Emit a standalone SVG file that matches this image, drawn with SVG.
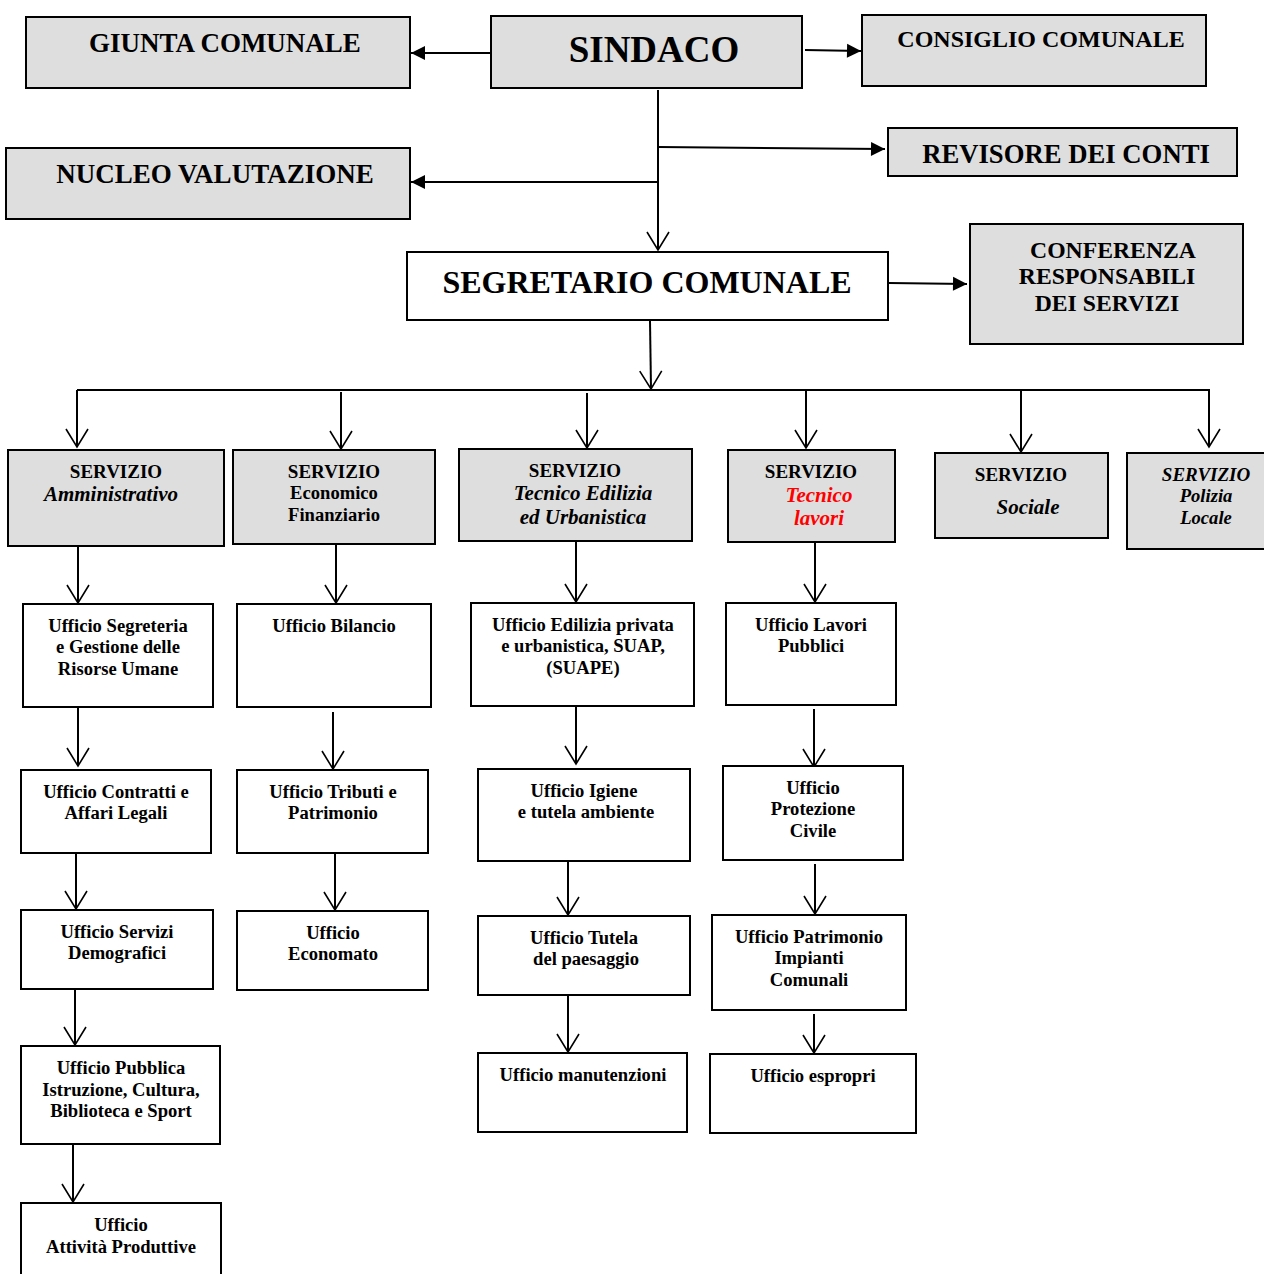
<svg xmlns="http://www.w3.org/2000/svg" width="1264" height="1274" viewBox="0 0 1264 1274">
<defs>
<marker id="open" markerUnits="userSpaceOnUse" markerWidth="26" markerHeight="26" viewBox="-20 -13 22 26" refX="0" refY="0" orient="auto">
<path d="M-18,-11 L0,0 L-18,11" fill="none" stroke="#000" stroke-width="1.6"/>
</marker>
<marker id="fill" markerUnits="userSpaceOnUse" markerWidth="18" markerHeight="16" viewBox="-15 -8 16 16" refX="0" refY="0" orient="auto">
<path d="M-14,-7 L0,0 L-14,7 Z" fill="#000"/>
</marker>
<style>
.g{fill:#dedede;stroke:#000;stroke-width:2}
.w{fill:#fff;stroke:#000;stroke-width:2}
text{font-family:'Liberation Serif','Times New Roman',serif;font-weight:bold;fill:#000;text-anchor:middle}
.t{font-size:18.6px}
.s{font-size:19px}
.it{font-size:21px;font-style:italic}
.i{font-style:italic}
.red{fill:#ff0000}
.c line{stroke:#000;stroke-width:2;fill:none}
.o{marker-end:url(#open)}
.f{marker-end:url(#fill)}
</style>
</defs>
<rect width="1264" height="1274" fill="#fff"/>

<g class="c" id="connectors">
<line class="f" x1="491" y1="53" x2="411" y2="53"/>
<line class="f" x1="805" y1="50" x2="861" y2="51"/>
<line class="o" x1="658" y1="90" x2="658" y2="250"/>
<line class="f" x1="658" y1="147" x2="885" y2="149"/>
<line class="f" x1="658" y1="182" x2="411" y2="182"/>
<line class="f" x1="889" y1="283" x2="967" y2="284"/>
<line class="o" x1="650" y1="321" x2="651" y2="389"/>
<line x1="77" y1="390" x2="1210" y2="390"/>
<line class="o" x1="77" y1="390" x2="77" y2="447"/>
<line class="o" x1="341" y1="392" x2="341" y2="449"/>
<line class="o" x1="587" y1="393" x2="587" y2="448"/>
<line class="o" x1="806" y1="391" x2="806" y2="448"/>
<line class="o" x1="1021" y1="391" x2="1021" y2="452"/>
<line class="o" x1="1209" y1="390" x2="1209" y2="447"/>
<line class="o" x1="78" y1="547" x2="78" y2="603"/>
<line class="o" x1="78" y1="708" x2="78" y2="766"/>
<line class="o" x1="76" y1="854" x2="76" y2="909"/>
<line class="o" x1="75" y1="990" x2="75" y2="1045"/>
<line class="o" x1="73" y1="1145" x2="73" y2="1202"/>
<line class="o" x1="336" y1="545" x2="336" y2="603"/>
<line class="o" x1="333" y1="712" x2="333" y2="769"/>
<line class="o" x1="335" y1="854" x2="335" y2="910"/>
<line class="o" x1="576" y1="542" x2="576" y2="602"/>
<line class="o" x1="576" y1="707" x2="576" y2="764"/>
<line class="o" x1="568" y1="862" x2="568" y2="915"/>
<line class="o" x1="568" y1="996" x2="568" y2="1052"/>
<line class="o" x1="815" y1="543" x2="815" y2="602"/>
<line class="o" x1="814" y1="709" x2="814" y2="767"/>
<line class="o" x1="815" y1="864" x2="815" y2="914"/>
<line class="o" x1="814" y1="1014" x2="814" y2="1053"/>
</g>

<g id="sindaco"><rect class="g" x="491" y="16" width="311" height="72"/><text x="654" y="62" style="font-size:37px">SINDACO</text></g>
<g id="giunta"><rect class="g" x="26" y="17" width="384" height="71"/><text x="225" y="52" style="font-size:27px">GIUNTA COMUNALE</text></g>
<g id="consiglio"><rect class="g" x="862" y="15" width="344" height="71"/><text x="1041" y="47" style="font-size:24px">CONSIGLIO COMUNALE</text></g>
<g id="revisore"><rect class="g" x="888" y="128" width="349" height="48"/><text x="1066" y="163" style="font-size:26.7px">REVISORE DEI CONTI</text></g>
<g id="nucleo"><rect class="g" x="6" y="148" width="404" height="71"/><text x="215" y="183" style="font-size:27px">NUCLEO VALUTAZIONE</text></g>
<g id="segretario"><rect class="w" x="407" y="252" width="481" height="68"/><text x="647" y="293" style="font-size:32px">SEGRETARIO COMUNALE</text></g>
<g id="conferenza"><rect class="g" x="970" y="224" width="273" height="120"/>
<text style="font-size:23.7px"><tspan x="1113" y="258">CONFERENZA</tspan><tspan x="1107" y="284">RESPONSABILI</tspan><tspan x="1107" y="311">DEI SERVIZI</tspan></text></g>

<g id="serv-amm"><rect class="g" x="8" y="450" width="216" height="96"/>
<text class="s" x="116" y="478">SERVIZIO</text><text class="it" x="111" y="501">Amministrativo</text></g>
<g id="serv-eco"><rect class="g" x="233" y="450" width="202" height="94"/>
<text class="s" x="334" y="478">SERVIZIO</text><text class="t" x="334" y="499">Economico</text><text class="t" x="334" y="521">Finanziario</text></g>
<g id="serv-tec-ed"><rect class="g" x="459" y="449" width="233" height="92"/>
<text class="s" x="575" y="477">SERVIZIO</text><text class="it" x="583" y="500">Tecnico Edilizia</text><text class="it" x="583" y="524">ed Urbanistica</text></g>
<g id="serv-tec-lav"><rect class="g" x="728" y="450" width="167" height="92"/>
<text class="s" x="811" y="478">SERVIZIO</text><text class="it red" x="819" y="502">Tecnico</text><text class="it red" x="819" y="525">lavori</text></g>
<g id="serv-soc"><rect class="g" x="935" y="453" width="173" height="85"/>
<text class="s" x="1021" y="481">SERVIZIO</text><text class="it" x="1028" y="514">Sociale</text></g>
<g id="serv-pol"><rect class="g" x="1127" y="453" width="140" height="96"/>
<text class="s i" x="1206" y="481">SERVIZIO</text><text class="t i" x="1206" y="502">Polizia</text><text class="t i" x="1206" y="524">Locale</text></g>

<g id="u-segreteria"><rect class="w" x="23" y="604" width="190" height="103"/>
<text class="t"><tspan x="118" y="632">Ufficio Segreteria</tspan><tspan x="118" y="653">e Gestione delle</tspan><tspan x="118" y="675">Risorse Umane</tspan></text></g>
<g id="u-contratti"><rect class="w" x="21" y="770" width="190" height="83"/>
<text class="t"><tspan x="116" y="798">Ufficio Contratti e</tspan><tspan x="116" y="819">Affari Legali</tspan></text></g>
<g id="u-demografici"><rect class="w" x="21" y="910" width="192" height="79"/>
<text class="t"><tspan x="117" y="938">Ufficio Servizi</tspan><tspan x="117" y="959">Demografici</tspan></text></g>
<g id="u-istruzione"><rect class="w" x="21" y="1046" width="199" height="98"/>
<text class="t"><tspan x="121" y="1074">Ufficio Pubblica</tspan><tspan x="121" y="1096">Istruzione, Cultura,</tspan><tspan x="121" y="1117">Biblioteca e Sport</tspan></text></g>
<g id="u-attivita"><rect class="w" x="21" y="1203" width="200" height="80"/>
<text class="t"><tspan x="121" y="1231">Ufficio</tspan><tspan x="121" y="1253">Attività Produttive</tspan></text></g>

<g id="u-bilancio"><rect class="w" x="237" y="604" width="194" height="103"/>
<text class="t" x="334" y="632">Ufficio Bilancio</text></g>
<g id="u-tributi"><rect class="w" x="237" y="770" width="191" height="83"/>
<text class="t"><tspan x="333" y="798">Ufficio Tributi e</tspan><tspan x="333" y="819">Patrimonio</tspan></text></g>
<g id="u-economato"><rect class="w" x="237" y="911" width="191" height="79"/>
<text class="t"><tspan x="333" y="939">Ufficio</tspan><tspan x="333" y="960">Economato</tspan></text></g>

<g id="u-edilizia"><rect class="w" x="471" y="603" width="223" height="103"/>
<text class="t"><tspan x="583" y="631">Ufficio Edilizia privata</tspan><tspan x="583" y="652">e urbanistica, SUAP,</tspan><tspan x="583" y="674">(SUAPE)</tspan></text></g>
<g id="u-igiene"><rect class="w" x="478" y="769" width="212" height="92"/>
<text class="t"><tspan x="584" y="797">Ufficio Igiene</tspan><tspan x="586" y="818">e tutela ambiente</tspan></text></g>
<g id="u-paesaggio"><rect class="w" x="478" y="916" width="212" height="79"/>
<text class="t"><tspan x="584" y="944">Ufficio Tutela</tspan><tspan x="586" y="965">del paesaggio</tspan></text></g>
<g id="u-manutenzioni"><rect class="w" x="478" y="1053" width="209" height="79"/>
<text class="t" x="583" y="1081">Ufficio manutenzioni</text></g>

<g id="u-lavori"><rect class="w" x="726" y="603" width="170" height="102"/>
<text class="t"><tspan x="811" y="631">Ufficio Lavori</tspan><tspan x="811" y="652">Pubblici</tspan></text></g>
<g id="u-protezione"><rect class="w" x="723" y="766" width="180" height="94"/>
<text class="t"><tspan x="813" y="794">Ufficio</tspan><tspan x="813" y="815">Protezione</tspan><tspan x="813" y="837">Civile</tspan></text></g>
<g id="u-patrimonio"><rect class="w" x="712" y="915" width="194" height="95"/>
<text class="t"><tspan x="809" y="943">Ufficio Patrimonio</tspan><tspan x="809" y="964">Impianti</tspan><tspan x="809" y="986">Comunali</tspan></text></g>
<g id="u-espropri"><rect class="w" x="710" y="1054" width="206" height="79"/>
<text class="t" x="813" y="1082">Ufficio espropri</text></g>
</svg>
